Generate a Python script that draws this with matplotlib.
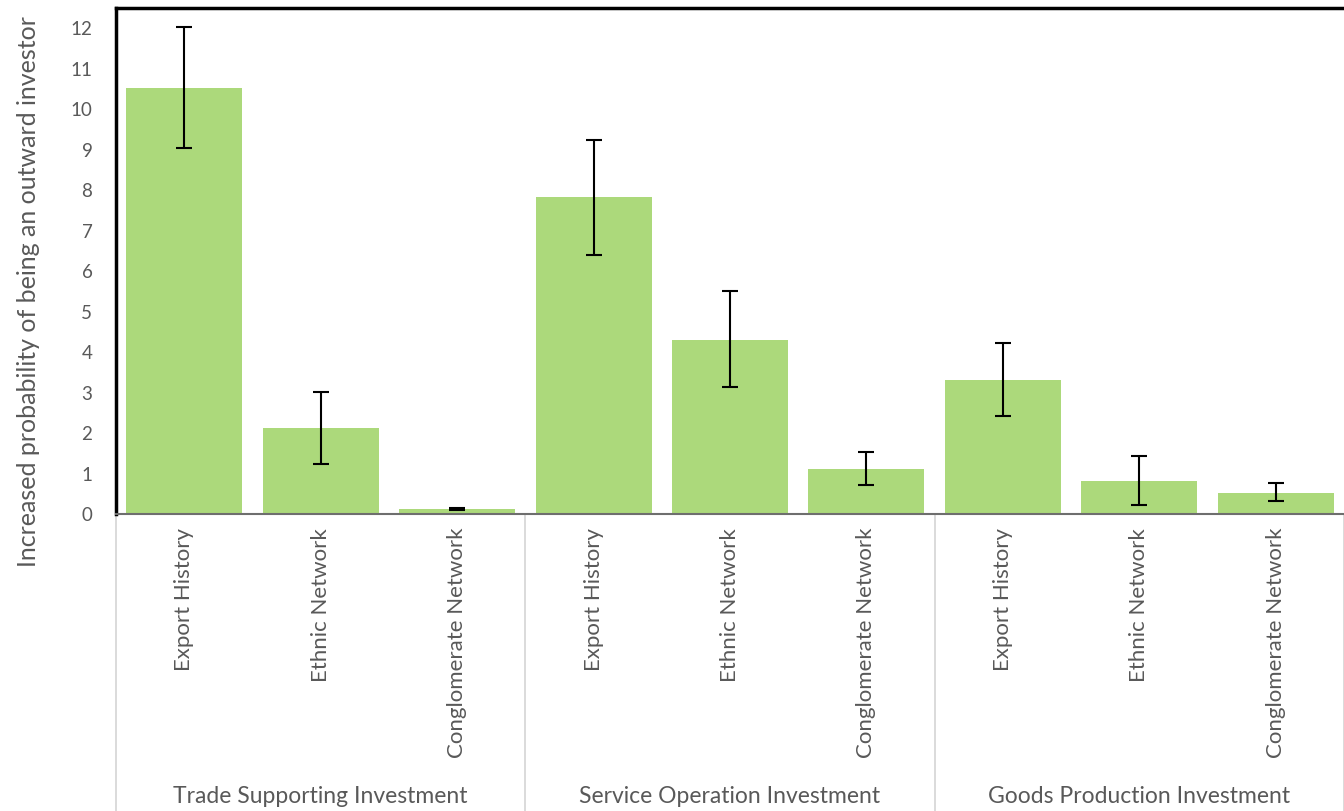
import matplotlib
matplotlib.use("Agg")
import matplotlib.pyplot as plt
import matplotlib.transforms as mtransforms

plt.rcParams['font.family'] = ['Lato', 'DejaVu Sans']

groups = ["Trade Supporting Investment", "Service Operation Investment", "Goods Production Investment"]
factors = ["Export History", "Ethnic Network", "Conglomerate Network"]

# increased probability and error-bar bounds, in group order
values = [10.52, 2.13, 0.12, 7.82, 4.31, 1.11, 3.32, 0.82, 0.52]
err_low = [9.03, 1.24, 0.09, 6.41, 3.14, 0.72, 2.43, 0.22, 0.32]
err_high = [12.03, 3.02, 0.15, 9.23, 5.52, 1.53, 4.23, 1.44, 0.77]

bar_color = '#acd97b'
text_color = '#595959'

fig = plt.figure(figsize=(13.44, 8.11), dpi=100)
ax = fig.add_axes([116 / 1344, 297 / 811, 1228 / 1344, 506 / 811])

x = list(range(len(values)))
yerr = [[v - lo for v, lo in zip(values, err_low)],
        [hi - v for v, hi in zip(values, err_high)]]
ax.bar(x, values, width=0.85, color=bar_color, zorder=2)
ax.errorbar(x, values, yerr=yerr, fmt='none', ecolor='black',
            elinewidth=1.5, capsize=6, capthick=1.5, zorder=3)

ax.set_xlim(-0.5, len(values) - 0.5)
ax.set_ylim(0, 12.5)
ax.set_yticks(range(0, 13))
ax.tick_params(axis='y', length=0, pad=17, labelsize=13.5, labelcolor=text_color)

ax.set_xticks(x)
ax.set_xticklabels(factors * len(groups), rotation=90, ha='center', va='top')
ax.tick_params(axis='x', length=0, pad=10, labelsize=16, labelcolor=text_color)

for side in ['left', 'top']:
    ax.spines[side].set_linewidth(2.5)
    ax.spines[side].set_color('black')
ax.spines['right'].set_visible(False)
ax.spines['bottom'].set_color('#6e6e6e')
ax.spines['bottom'].set_linewidth(1.5)

ax.set_ylabel("Increased probability of being an outward investor",
              fontsize=18, color=text_color)
ax.yaxis.set_label_coords(-0.062, 0.44)

# group separators running down through the category labels
trans = mtransforms.blended_transform_factory(ax.transData, ax.transAxes)
axes_bottom = -(297 / 811) / (506 / 811)
n = len(factors)
for i in range(len(groups) + 1):
    xs = i * n - 0.5
    ax.plot([xs, xs], [0, axes_bottom], color='#d4d4d4', lw=1.2,
            transform=trans, clip_on=False, zorder=1)

for i, g in enumerate(groups):
    xc = i * n + (n - 1) / 2
    ax.text(xc, axes_bottom + 0.028, g, transform=trans, ha='center', va='center',
            fontsize=16.5, color=text_color)

fig.savefig('out.png', dpi=100)
